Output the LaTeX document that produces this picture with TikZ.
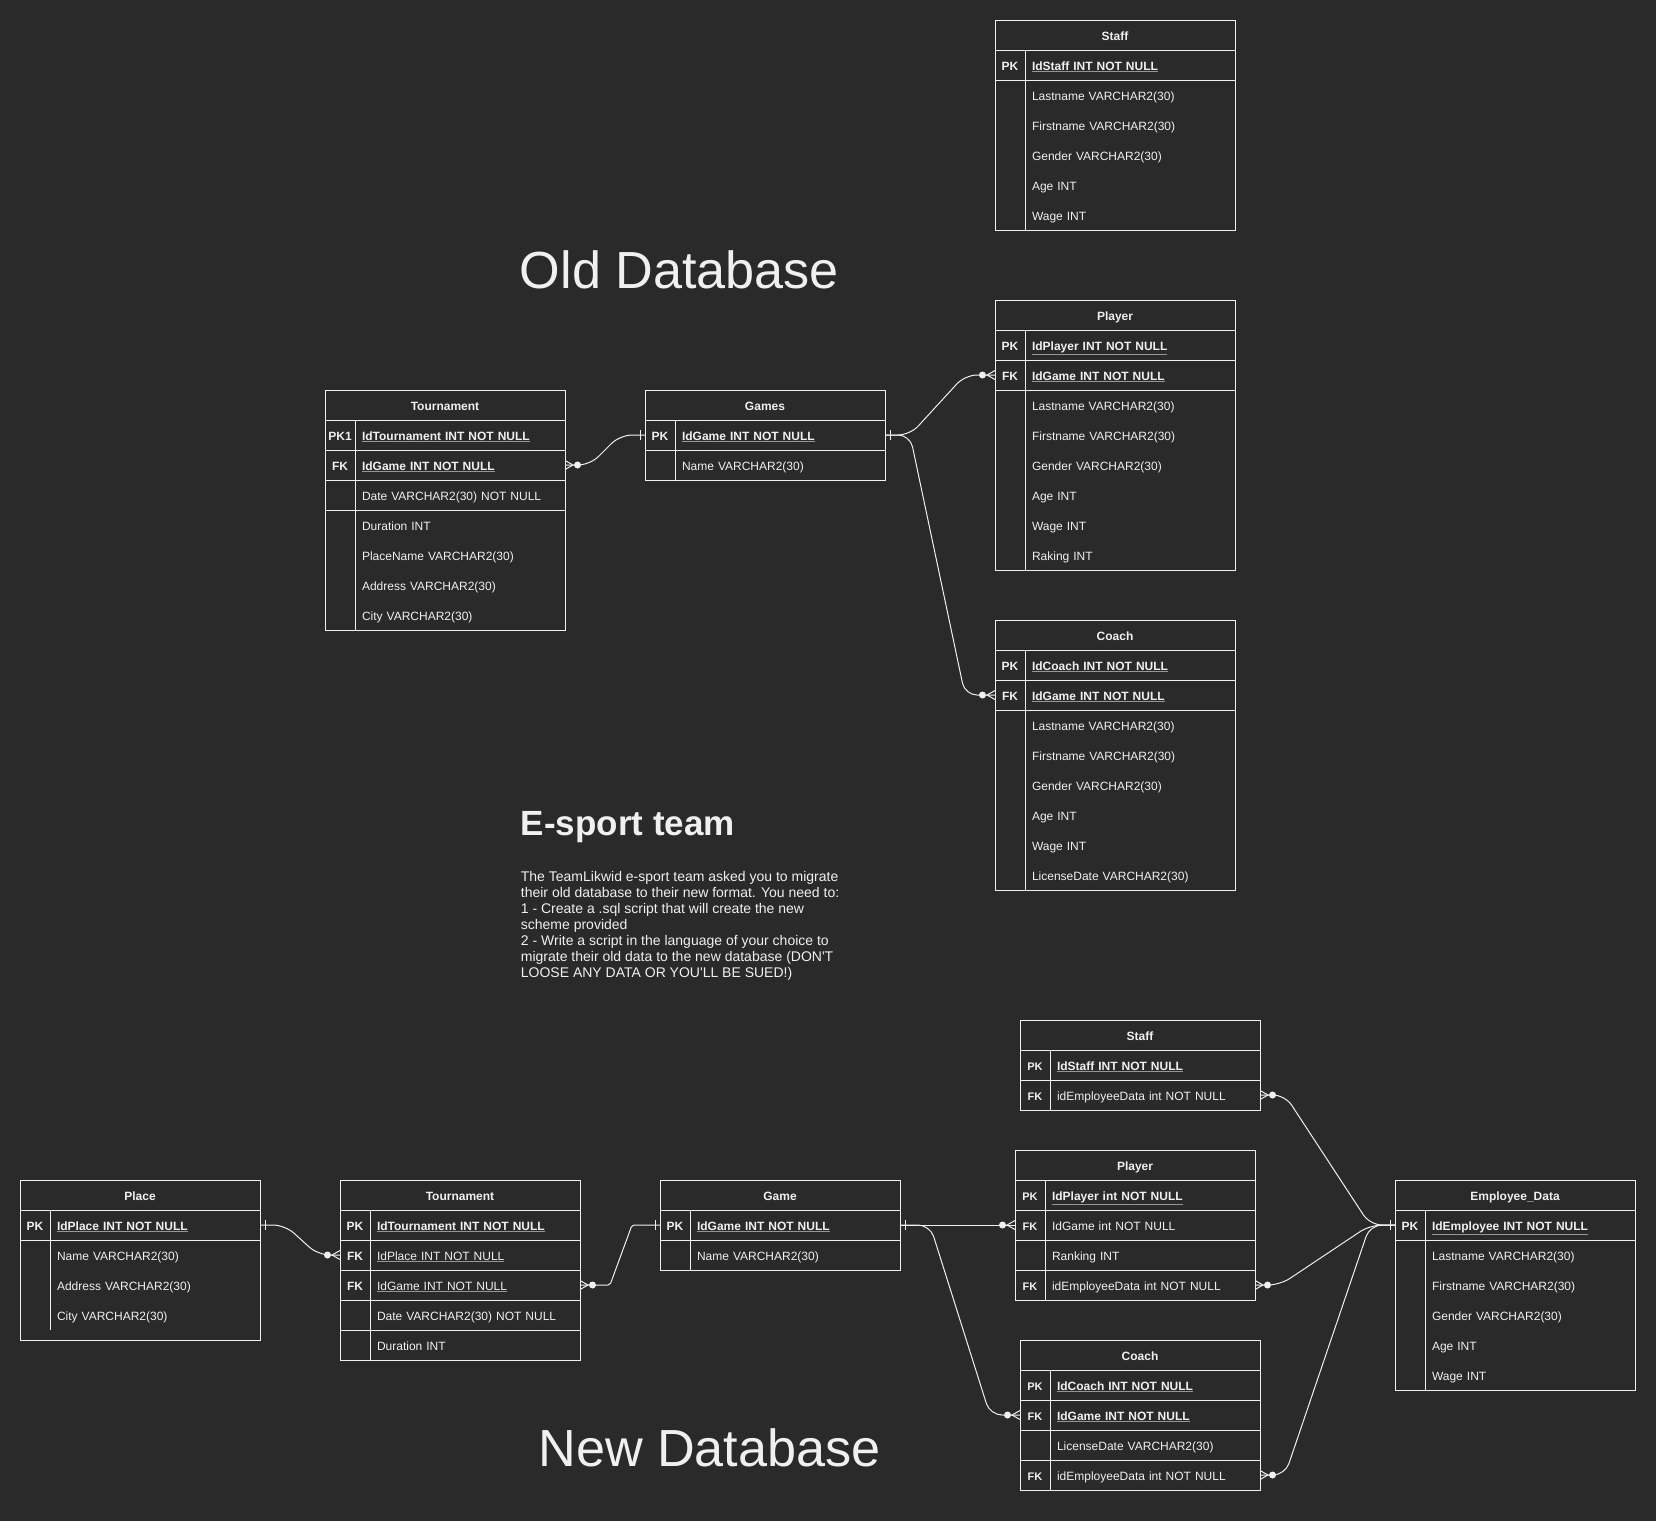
\documentclass[tikz,border=0pt]{standalone}
\usepackage{fontspec}
\setmainfont{Liberation Sans}
\usepackage{tikz}
\usetikzlibrary{positioning,calc}

\definecolor{bg}{RGB}{42,42,42}
\definecolor{fg}{RGB}{240,240,240}
\definecolor{ulc}{RGB}{150,150,150}

\newcommand{\tbfont}{\fontsize{12}{14}\selectfont}
\newcommand{\keycell}[1]{\makebox[30pt][c]{\bfseries #1}\hspace{7pt}}
\newcommand{\skeycell}[1]{\makebox[30pt][c]{\fontsize{11}{13}\selectfont\bfseries #1}\hspace{7pt}}
\newcommand{\pk}[1]{\rlap{\color{ulc}\underline{\phantom{\textbf{#1}}}}\textbf{#1}}
\newcommand{\ul}[1]{\rlap{\color{ulc}\underline{\phantom{#1}}}#1}

\tikzset{
  tablehead/.style={draw=fg, line width=1pt, anchor=north west, font=\tbfont\bfseries,
    minimum width=240pt, minimum height=30pt, inner sep=0pt, outer sep=0pt,
    text height=12pt, text depth=2pt},
  fieldrow/.style={draw=fg, line width=1pt, font=\tbfont, minimum width=240pt,
    minimum height=30pt, text width=240pt, inner sep=0pt, outer sep=0pt, align=left,
    text height=12pt, text depth=2pt},
  plainrow/.style={fieldrow, draw=none},
  frame/.style={draw=fg, line width=1pt},
  link/.style={draw=fg, line width=1pt, rounded corners=12pt},
  ermark/.style={draw=fg, line width=1pt},
}

% crow's foot ends and single bars, #2 = side (1 right, -1 left)
\newcommand{\onemark}[2]{\draw[ermark] ($(#1)+(#2*5,-5)$) -- ($(#1)+(#2*5,5)$);}
\newcommand{\manymark}[2]{%
  \draw[ermark] ($(#1)+(0,-4.5)$) -- ($(#1)+(#2*8,0)$) -- ($(#1)+(0,4.5)$);
  \fill[fg] ($(#1)+(#2*12.5,0)$) circle[radius=3.5pt];}
\newcommand{\tableframe}[2]{%
  \draw[frame] (#1.north west) rectangle (#1-#2.south east);
  \draw[frame] ($(#1-1.north west)+(30,0)$) -- ($(#1-#2.south west)+(30,0)$);}

\begin{document}
\begin{tikzpicture}[x=1pt, y=-1pt, font=\tbfont, text=fg]
\path[use as bounding box, fill=bg] (0,0) rectangle (1656,1521);

% titles
\node[anchor=base, font=\fontsize{52.2}{60}\selectfont] (oldTitle) at (679.5,288.7) {Old Database};
\node[anchor=base, font=\fontsize{52.2}{60}\selectfont] (newTitle) at (709.5,1466) {New Database};
\node[anchor=base west, inner sep=0pt, font=\fontsize{35}{40}\selectfont\bfseries] (teamTitle) at (520.7,835.7) {E-sport team};
\node[anchor=north west, inner sep=0pt, align=left, font=\fontsize{14}{16}\selectfont] (brief) at (520.7,871.5)
  {The TeamLikwid e-sport team asked you to migrate\\
   their old database to their new format. You need to:\\
   1 - Create a .sql script that will create the new\\
   scheme provided\\
   2 - Write a script in the language of your choice to\\
   migrate their old data to the new database (DON\textquotesingle T\\
   LOOSE ANY DATA OR YOU\textquotesingle LL BE SUED!)};

%%% old database
% Staff
\node[tablehead] (oStaff) at (995,20) {Staff};
\node[fieldrow, below=0pt of oStaff] (oStaff-1) {\keycell{PK}\pk{IdStaff INT NOT NULL}};
\foreach \t [count=\i from 2, evaluate=\i as \j using int(\i-1)] in {Lastname VARCHAR2(30), Firstname VARCHAR2(30), Gender VARCHAR2(30), Age INT, Wage INT}
  \node[plainrow, below=0pt of oStaff-\j] (oStaff-\i) {\keycell{}\t};
\tableframe{oStaff}{6}

% Player
\node[tablehead] (oPlayer) at (995,300) {Player};
\node[fieldrow, below=0pt of oPlayer] (oPlayer-1) {\keycell{PK}\pk{IdPlayer INT NOT NULL}};
\node[fieldrow, below=0pt of oPlayer-1] (oPlayer-2) {\keycell{FK}\pk{IdGame INT NOT NULL}};
\foreach \t [count=\i from 3, evaluate=\i as \j using int(\i-1)] in {Lastname VARCHAR2(30), Firstname VARCHAR2(30), Gender VARCHAR2(30), Age INT, Wage INT, Raking INT}
  \node[plainrow, below=0pt of oPlayer-\j] (oPlayer-\i) {\keycell{}\t};
\tableframe{oPlayer}{8}

% Coach
\node[tablehead] (oCoach) at (995,620) {Coach};
\node[fieldrow, below=0pt of oCoach] (oCoach-1) {\keycell{PK}\pk{IdCoach INT NOT NULL}};
\node[fieldrow, below=0pt of oCoach-1] (oCoach-2) {\keycell{FK}\pk{IdGame INT NOT NULL}};
\foreach \t [count=\i from 3, evaluate=\i as \j using int(\i-1)] in {Lastname VARCHAR2(30), Firstname VARCHAR2(30), Gender VARCHAR2(30), Age INT, Wage INT, LicenseDate VARCHAR2(30)}
  \node[plainrow, below=0pt of oCoach-\j] (oCoach-\i) {\keycell{}\t};
\tableframe{oCoach}{8}

% Tournament
\node[tablehead] (oTourn) at (325,390) {Tournament};
\node[fieldrow, below=0pt of oTourn] (oTourn-1) {\keycell{PK1}\pk{IdTournament INT NOT NULL}};
\node[fieldrow, below=0pt of oTourn-1] (oTourn-2) {\keycell{FK}\pk{IdGame INT NOT NULL}};
\node[fieldrow, below=0pt of oTourn-2] (oTourn-3) {\keycell{}Date VARCHAR2(30) NOT NULL};
\foreach \t [count=\i from 4, evaluate=\i as \j using int(\i-1)] in {Duration INT, PlaceName VARCHAR2(30), Address VARCHAR2(30), City VARCHAR2(30)}
  \node[plainrow, below=0pt of oTourn-\j] (oTourn-\i) {\keycell{}\t};
\tableframe{oTourn}{7}

% Games
\node[tablehead] (oGames) at (645,390) {Games};
\node[fieldrow, below=0pt of oGames] (oGames-1) {\keycell{PK}\pk{IdGame INT NOT NULL}};
\node[fieldrow, below=0pt of oGames-1] (oGames-2) {\keycell{}Name VARCHAR2(30)};
\tableframe{oGames}{2}

%%% new database
% Place
\node[tablehead] (nPlace) at (20,1180) {Place};
\node[fieldrow, below=0pt of nPlace] (nPlace-1) {\keycell{PK}\pk{IdPlace INT NOT NULL}};
\foreach \t [count=\i from 2, evaluate=\i as \j using int(\i-1)] in {Name VARCHAR2(30), Address VARCHAR2(30), City VARCHAR2(30)}
  \node[plainrow, below=0pt of nPlace-\j] (nPlace-\i) {\keycell{}\t};
\draw[frame] (nPlace.north west) rectangle ($(nPlace-4.south east)+(0,10)$);
\draw[frame] ($(nPlace-1.north west)+(30,0)$) -- ($(nPlace-4.south west)+(30,0)$);

% Tournament
\node[tablehead] (nTourn) at (340,1180) {Tournament};
\node[fieldrow, below=0pt of nTourn] (nTourn-1) {\keycell{PK}\pk{IdTournament INT NOT NULL}};
\node[fieldrow, below=0pt of nTourn-1] (nTourn-2) {\keycell{FK}\ul{IdPlace INT NOT NULL}};
\node[fieldrow, below=0pt of nTourn-2] (nTourn-3) {\keycell{FK}\ul{IdGame INT NOT NULL}};
\node[fieldrow, below=0pt of nTourn-3] (nTourn-4) {\keycell{}Date VARCHAR2(30) NOT NULL};
\node[fieldrow, below=0pt of nTourn-4] (nTourn-5) {\keycell{}Duration INT};
\tableframe{nTourn}{5}

% Game
\node[tablehead] (nGame) at (660,1180) {Game};
\node[fieldrow, below=0pt of nGame] (nGame-1) {\keycell{PK}\pk{IdGame INT NOT NULL}};
\node[fieldrow, below=0pt of nGame-1] (nGame-2) {\keycell{}Name VARCHAR2(30)};
\tableframe{nGame}{2}

% Staff
\node[tablehead] (nStaff) at (1020,1020) {Staff};
\node[fieldrow, below=0pt of nStaff] (nStaff-1) {\skeycell{PK}\pk{IdStaff INT NOT NULL}};
\node[fieldrow, below=0pt of nStaff-1] (nStaff-2) {\skeycell{FK}idEmployeeData int NOT NULL};
\tableframe{nStaff}{2}

% Player
\node[tablehead] (nPlayer) at (1015,1150) {Player};
\node[fieldrow, below=0pt of nPlayer] (nPlayer-1) {\skeycell{PK}\pk{IdPlayer int NOT NULL}};
\node[fieldrow, below=0pt of nPlayer-1] (nPlayer-2) {\skeycell{FK}IdGame int NOT NULL};
\node[fieldrow, below=0pt of nPlayer-2] (nPlayer-3) {\skeycell{}Ranking INT};
\node[fieldrow, below=0pt of nPlayer-3] (nPlayer-4) {\skeycell{FK}idEmployeeData int NOT NULL};
\tableframe{nPlayer}{4}

% Coach
\node[tablehead] (nCoach) at (1020,1340) {Coach};
\node[fieldrow, below=0pt of nCoach] (nCoach-1) {\skeycell{PK}\pk{IdCoach INT NOT NULL}};
\node[fieldrow, below=0pt of nCoach-1] (nCoach-2) {\skeycell{FK}\pk{IdGame INT NOT NULL}};
\node[fieldrow, below=0pt of nCoach-2] (nCoach-3) {\skeycell{}LicenseDate VARCHAR2(30)};
\node[fieldrow, below=0pt of nCoach-3] (nCoach-4) {\skeycell{FK}idEmployeeData int NOT NULL};
\tableframe{nCoach}{4}

% Employee_Data
\node[tablehead] (nEmp) at (1395,1180) {Employee\_Data};
\node[fieldrow, below=0pt of nEmp] (nEmp-1) {\keycell{PK}\pk{IdEmployee INT NOT NULL}};
\foreach \t [count=\i from 2, evaluate=\i as \j using int(\i-1)] in {Lastname VARCHAR2(30), Firstname VARCHAR2(30), Gender VARCHAR2(30), Age INT, Wage INT}
  \node[plainrow, below=0pt of nEmp-\j] (nEmp-\i) {\keycell{}\t};
\tableframe{nEmp}{6}

%%% relations, old
\draw[link] (oTourn-2.east) -- ++(25,0) -- ($(oGames-1.west)+(-25,0)$) -- (oGames-1.west);
\draw[link] (oGames-1.east) -- ++(25,0) -- ($(oPlayer-2.west)+(-30,0)$) -- (oPlayer-2.west);
\draw[link] (oGames-1.east) -- ++(25,0) -- ($(oCoach-2.west)+(-30,0)$) -- (oCoach-2.west);
\manymark{oTourn-2.east}{1}
\onemark{oGames-1.west}{-1}
\onemark{oGames-1.east}{1}
\manymark{oPlayer-2.west}{-1}
\manymark{oCoach-2.west}{-1}

%%% relations, new
\draw[link] (nPlace-1.east) -- ++(25,0) -- ($(nTourn-2.west)+(-22,0)$) -- (nTourn-2.west);
\draw[link, rounded corners=2pt] (nTourn-3.east) -- ++(30,0) -- ($(nGame-1.west)+(-28,0)$) -- (nGame-1.west);
\draw[link] (nGame-1.east) -- (nPlayer-2.west);
\draw[link] (nGame-1.east) -- ++(30,0) -- ($(nCoach-2.west)+(-30,0)$) -- (nCoach-2.west);
\draw[link] (nStaff-2.east) -- ++(25,0) -- ($(nEmp-1.west)+(-25,0)$) -- (nEmp-1.west);
\draw[link] (nPlayer-4.east) -- ++(25,0) -- ($(nEmp-1.west)+(-25,0)$) -- (nEmp-1.west);
\draw[link] (nCoach-4.east) -- ++(25,0) -- ($(nEmp-1.west)+(-25,0)$) -- (nEmp-1.west);
\onemark{nPlace-1.east}{1}
\manymark{nTourn-2.west}{-1}
\manymark{nTourn-3.east}{1}
\onemark{nGame-1.west}{-1}
\onemark{nGame-1.east}{1}
\manymark{nPlayer-2.west}{-1}
\manymark{nCoach-2.west}{-1}
\manymark{nStaff-2.east}{1}
\manymark{nPlayer-4.east}{1}
\manymark{nCoach-4.east}{1}
\onemark{nEmp-1.west}{-1}
\end{tikzpicture}
\end{document}
